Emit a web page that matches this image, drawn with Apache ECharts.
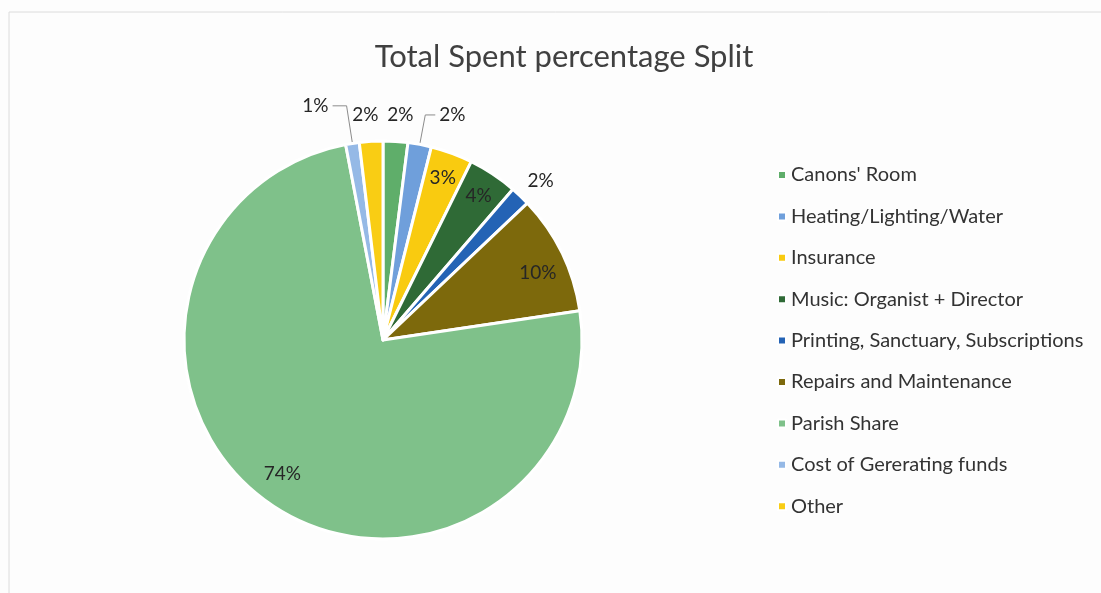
<!DOCTYPE html>
<html>
<head>
<meta charset="utf-8">
<script src="https://cdn.jsdelivr.net/npm/echarts@6/dist/echarts.min.js"></script>
<style>
html,body{margin:0;padding:0;background:#fdfdfd;}
#chart{width:1101px;height:593px;}
</style>
</head>
<body>
<div id="chart"></div>
<script>
// ---- data ----
const categories = [
  "Canons' Room",
  "Heating/Lighting/Water",
  "Insurance",
  "Music: Organist + Director",
  "Printing, Sanctuary, Subscriptions",
  "Repairs and Maintenance",
  "Parish Share",
  "Cost of Gererating funds",
  "Other"
];
const values = [2.0, 1.9, 3.4, 4.0, 1.6, 9.7, 74.2, 1.1, 1.9];

// ---- styles ----
const colors = ['#5fae6a', '#6f9fdb', '#f9cb10', '#2f6a36', '#2463b5', '#7d690c', '#7fc18a', '#95b9e6', '#f9cd14'];
// label line length (negative = inside the slice), secondary length, leader line shown
const labelLen  = [28, 30, -26, -26, 28, -30, -32, 38, 28];
const labelLen2 = [0, 10, 0, 0, 0, 0, 0, 14, 0];
const leader    = [false, true, false, false, false, false, false, true, false];
// small label nudges (px)
const nudgeX = [3, 0, 0, 0, 1, 3, -4, 0, -4];
const nudgeY = [1, 0, 0, 0, 5, 7, -2, 0, 1];

const CENTER = [383, 340];
const RADIUS = 199;

const chart = echarts.init(document.getElementById('chart'), null, {renderer: 'canvas'});

const seriesData = categories.map((name, i) => ({
  name: name,
  value: values[i],
  itemStyle: {color: colors[i]},
  labelLine: {
    show: leader[i],
    length: labelLen[i],
    length2: labelLen2[i],
    lineStyle: {color: '#8c8c8c', width: 1}
  },
  label: {distanceToLabelLine: leader[i] ? 4 : 0}
}));

chart.setOption({
  backgroundColor: '#fdfdfd',
  animation: false,
  title: {
    text: 'Total Spent percentage Split',
    left: 559,
    top: 36,
    textAlign: 'center',
    textStyle: {fontFamily: 'Lato', fontSize: 31, fontWeight: 'normal', color: '#404040'}
  },
  legend: {
    orient: 'vertical',
    left: 772,
    top: 160,
    itemWidth: 8,
    itemHeight: 8,
    itemGap: 21.4,
    icon: 'rect',
    data: categories,
    textStyle: {fontFamily: 'Lato', fontSize: 20, color: '#333333', lineHeight: 20}
  },
  graphic: [{
    type: 'rect',
    shape: {x: 9, y: 12, width: 1200, height: 700},
    style: {fill: 'none', stroke: '#dcdcdc', lineWidth: 1},
    silent: true
  }],
  series: [{
    type: 'pie',
    center: CENTER,
    radius: [0, RADIUS],
    startAngle: 90,
    clockwise: true,
    avoidLabelOverlap: false,
    itemStyle: {borderColor: '#ffffff', borderWidth: 3},
    emphasis: {disabled: true},
    label: {
      show: true,
      position: 'outside',
      fontFamily: 'Lato',
      fontSize: 19,
      color: '#262626',
      formatter: p => Math.round(p.percent) + '%'
    },
    labelLayout: function (params) {
      const i = params.dataIndex;
      if (leader[i]) return {dx: nudgeX[i], dy: nudgeY[i]};
      return {align: 'center', verticalAlign: 'middle', dx: nudgeX[i], dy: nudgeY[i]};
    },
    data: seriesData
  }]
});
</script>
</body>
</html>
